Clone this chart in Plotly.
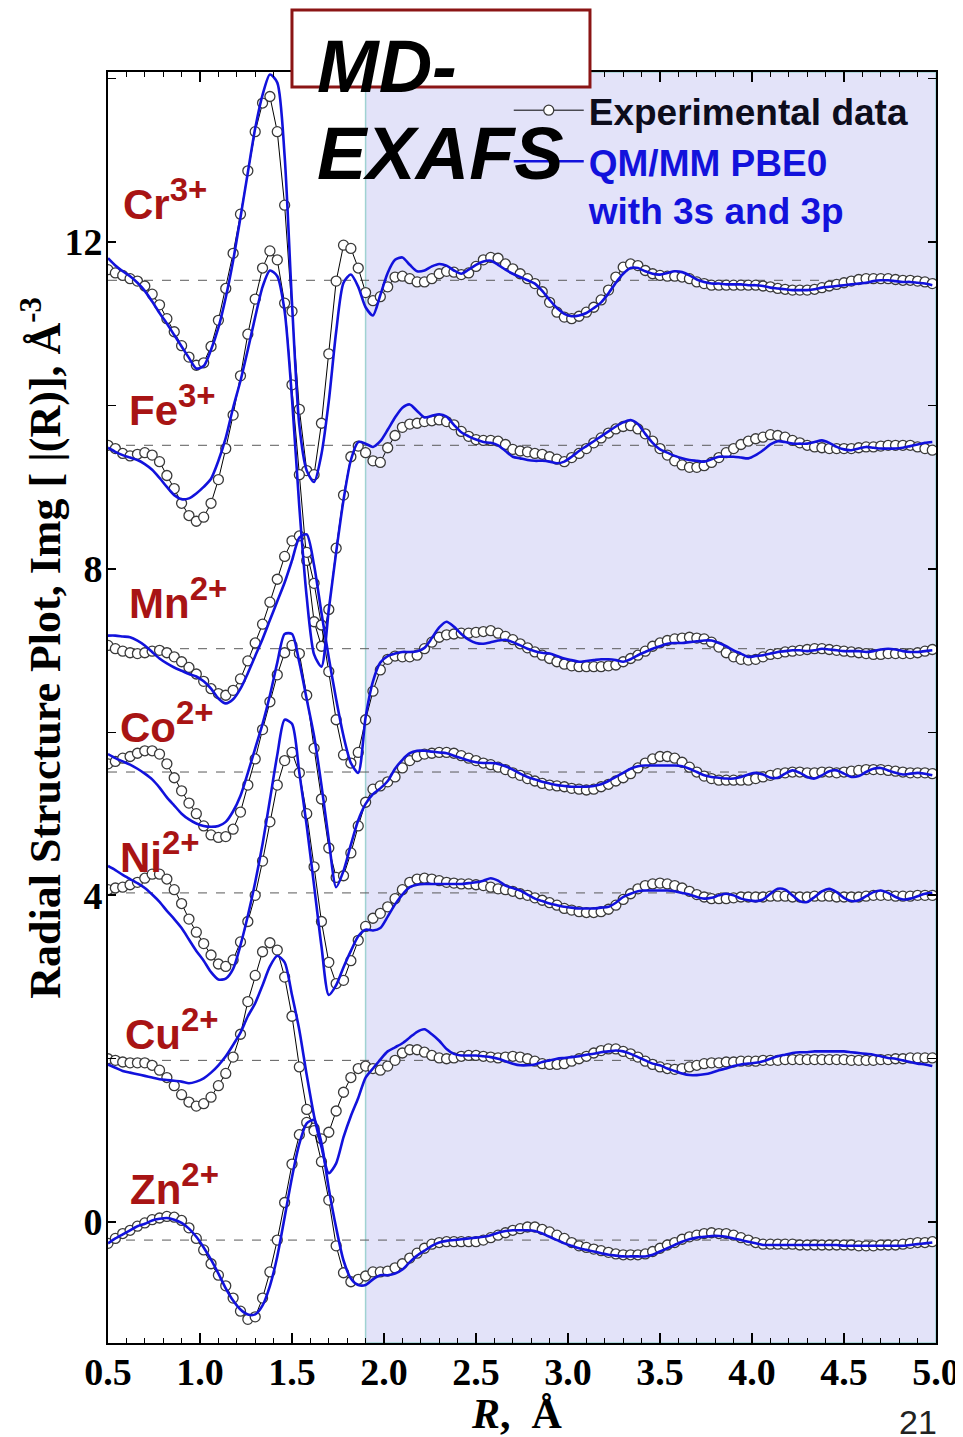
import plotly.graph_objects as go

# ---------------- data ----------------
R = [round(0.5 + 0.04 * i, 2) for i in range(113)]   # R grid, Angstrom

IONS = ["Cr", "Fe", "Mn", "Co", "Ni", "Cu", "Zn"]
CHARGES = ["3+", "3+", "2+", "2+", "2+", "2+", "2+"]
BASELINES = [11.53, 9.51, 7.02, 5.51, 4.03, 1.98, -0.22]

CR_EXP = [11.66, 11.62, 11.59, 11.55, 11.52, 11.46, 11.36, 11.23, 11.06, 10.90,
          10.73, 10.59, 10.49, 10.52, 10.72, 11.04, 11.43, 11.86, 12.34, 12.87,
          13.35, 13.70, 13.78, 13.35, 12.45, 11.15, 9.95, 9.20, 9.15, 9.78,
          10.63, 11.52, 11.96, 11.92, 11.68,
          11.38, 11.28, 11.33, 11.45, 11.57, 11.58, 11.55, 11.51, 11.51, 11.55,
          11.61, 11.64, 11.63, 11.60, 11.62, 11.70, 11.78, 11.81, 11.80, 11.73,
          11.67, 11.61, 11.55, 11.49, 11.39, 11.26, 11.14, 11.08, 11.06, 11.09,
          11.14, 11.20, 11.29, 11.41, 11.57, 11.69, 11.73, 11.71, 11.65, 11.61,
          11.59, 11.58, 11.58, 11.57, 11.55, 11.51, 11.49, 11.47, 11.47, 11.47,
          11.47, 11.47, 11.47, 11.47, 11.46, 11.45, 11.43, 11.42, 11.41, 11.41,
          11.41, 11.42, 11.44, 11.46, 11.48, 11.50, 11.52, 11.54, 11.55, 11.55,
          11.55, 11.55, 11.54, 11.53, 11.53, 11.52, 11.51, 11.49]
CR_QM = [11.80, 11.71, 11.64, 11.58, 11.50, 11.40, 11.27, 11.13, 11.00, 10.86,
         10.72, 10.58, 10.45, 10.48, 10.68, 10.95, 11.32, 11.77, 12.30, 12.85,
         13.39, 13.80, 14.05, 13.95, 13.05, 11.25, 9.75, 9.20, 9.06, 9.40,
         10.05, 10.90, 11.50, 11.60, 11.45,
         11.20, 11.10, 11.35, 11.62, 11.78, 11.81, 11.72, 11.64, 11.65, 11.70,
         11.73, 11.71, 11.65, 11.61, 11.66, 11.72, 11.76, 11.77, 11.72, 11.66,
         11.61, 11.57, 11.53, 11.49, 11.40, 11.29, 11.19, 11.12, 11.09, 11.10,
         11.13, 11.19, 11.26, 11.37, 11.50, 11.61, 11.68, 11.68, 11.64, 11.61,
         11.60, 11.62, 11.64, 11.63, 11.59, 11.54, 11.51, 11.49, 11.49, 11.48,
         11.48, 11.48, 11.47, 11.47, 11.46, 11.44, 11.43, 11.42, 11.41, 11.41,
         11.41, 11.42, 11.44, 11.45, 11.46, 11.47, 11.48, 11.49, 11.50, 11.52,
         11.53, 11.53, 11.52, 11.51, 11.51, 11.50, 11.49, 11.47]

FE_EXP = [9.51, 9.47, 9.41, 9.38, 9.40, 9.42, 9.39, 9.31, 9.14, 8.98,
          8.80, 8.65, 8.58, 8.63, 8.80, 9.09, 9.47, 9.88, 10.36, 10.87,
          11.30, 11.68, 11.89, 11.78, 11.25, 10.25, 9.15, 8.10, 7.35, 7.05,
          7.50, 8.25, 8.90, 9.37, 9.50,
          9.42, 9.32, 9.30, 9.48, 9.63, 9.73, 9.77, 9.78, 9.80, 9.81,
          9.82, 9.80, 9.76, 9.68, 9.62, 9.58, 9.57, 9.57, 9.56, 9.52,
          9.46, 9.44, 9.43, 9.41, 9.40, 9.37, 9.34, 9.31, 9.36, 9.41,
          9.47, 9.54, 9.60, 9.66, 9.71, 9.74, 9.75, 9.71, 9.65, 9.56,
          9.47, 9.39, 9.32, 9.27, 9.24, 9.24, 9.26, 9.30, 9.36, 9.42,
          9.47, 9.52, 9.56, 9.59, 9.61, 9.64, 9.63, 9.61, 9.57, 9.54,
          9.51, 9.49, 9.48, 9.47, 9.47, 9.47, 9.47, 9.48, 9.49, 9.49,
          9.50, 9.51, 9.51, 9.51, 9.51, 9.49, 9.47, 9.45]
FE_QM = [9.48, 9.43, 9.39, 9.36, 9.33, 9.28, 9.21, 9.11, 9.00, 8.90,
         8.85, 8.86, 8.92, 9.00, 9.10, 9.32, 9.60, 9.97, 10.30, 10.68,
         11.08, 11.45, 11.65, 11.58, 11.15, 10.08, 8.75, 7.65, 6.95, 6.80,
         7.50, 8.20, 8.84, 9.33, 9.55,
         9.53, 9.49, 9.56, 9.70, 9.85, 9.97, 10.01, 9.93, 9.85, 9.87,
         9.89, 9.86, 9.76, 9.67, 9.62, 9.58, 9.55, 9.54, 9.51, 9.44,
         9.37, 9.35, 9.33, 9.32, 9.32, 9.31, 9.29, 9.31, 9.37, 9.44,
         9.50, 9.56, 9.62, 9.68, 9.74, 9.79, 9.82, 9.77, 9.65, 9.54,
         9.46, 9.42, 9.38, 9.35, 9.33, 9.32, 9.31, 9.34, 9.37, 9.37,
         9.37, 9.36, 9.35, 9.39, 9.45, 9.52, 9.56, 9.55, 9.53, 9.53,
         9.53, 9.55, 9.57, 9.54, 9.49, 9.46, 9.45, 9.47, 9.49, 9.48,
         9.47, 9.47, 9.47, 9.48, 9.50, 9.52, 9.54, 9.55]

MN_EXP = [7.06, 7.02, 6.99, 6.97, 6.96, 6.97, 6.99, 7.00, 6.97, 6.92,
          6.86, 6.79, 6.71, 6.62, 6.53, 6.47, 6.45, 6.51, 6.65, 6.87,
          7.09, 7.32, 7.59, 7.87, 8.15, 8.34, 8.40, 8.20, 7.82, 7.31,
          6.74, 6.15, 5.72, 5.62, 5.75,
          6.15, 6.50, 6.76, 6.89, 6.93, 6.92, 6.92, 6.94, 7.02, 7.10,
          7.16, 7.19, 7.20, 7.21, 7.21, 7.22, 7.23, 7.24, 7.21, 7.17,
          7.13, 7.08, 7.03, 6.98, 6.94, 6.90, 6.86, 6.83, 6.81, 6.80,
          6.80, 6.80, 6.80, 6.81, 6.82, 6.86, 6.90, 6.94, 6.99, 7.05,
          7.09, 7.12, 7.14, 7.15, 7.16, 7.15, 7.14, 7.10, 7.04, 6.97,
          6.92, 6.89, 6.88, 6.89, 6.92, 6.95, 6.96, 6.98, 6.99, 7.00,
          7.01, 7.02, 7.02, 7.01, 7.00, 6.99, 6.98, 6.97, 6.96, 6.95,
          6.95, 6.96, 6.96, 6.96, 6.96, 6.97, 6.99, 7.01]
MN_QM = [7.18, 7.18, 7.17, 7.16, 7.12, 7.06, 6.98, 6.90, 6.84, 6.79,
         6.75, 6.71, 6.68, 6.62, 6.53, 6.41, 6.35, 6.40, 6.53, 6.72,
         6.93, 7.14, 7.37, 7.60, 7.83, 8.10, 8.38, 8.42, 8.04, 7.46,
         6.91, 6.40, 5.95, 5.62, 5.50,
         6.18, 6.62, 6.85, 6.93, 6.96, 6.98, 6.98, 6.99, 7.03, 7.15,
         7.28, 7.35, 7.29, 7.20, 7.13, 7.09, 7.08, 7.10, 7.12, 7.13,
         7.10, 7.06, 7.02, 6.99, 6.97, 6.96, 6.93, 6.90, 6.88, 6.86,
         6.87, 6.88, 6.89, 6.89, 6.88, 6.86, 6.89, 6.94, 6.98, 7.02,
         7.05, 7.08, 7.09, 7.09, 7.10, 7.11, 7.12, 7.12, 7.09, 7.05,
         7.00, 6.96, 6.92, 6.93, 6.94, 6.96, 6.98, 6.99, 7.00, 7.00,
         6.99, 7.00, 7.02, 7.01, 7.00, 6.99, 6.99, 6.99, 6.98, 6.99,
         7.01, 7.02, 7.01, 6.99, 6.98, 6.98, 6.99, 7.00]

CO_EXP = [5.61, 5.64, 5.68, 5.70, 5.74, 5.77, 5.77, 5.73, 5.61, 5.44,
          5.28, 5.13, 5.00, 4.85, 4.74, 4.71, 4.72, 4.81, 5.02, 5.35,
          5.67, 6.03, 6.37, 6.70, 6.97, 7.06, 6.96, 6.45, 5.80, 5.18,
          4.58, 4.22, 4.24, 4.52, 4.85,
          5.14, 5.30, 5.34, 5.39, 5.45, 5.56, 5.65, 5.70, 5.73, 5.74,
          5.75, 5.75, 5.74, 5.71, 5.68, 5.65, 5.62, 5.60, 5.57, 5.54,
          5.50, 5.47, 5.43, 5.40, 5.37, 5.35, 5.34, 5.33, 5.31, 5.30,
          5.29, 5.30, 5.33, 5.36, 5.40, 5.44, 5.49, 5.56, 5.62, 5.67,
          5.70, 5.70, 5.68, 5.63, 5.57, 5.51, 5.46, 5.43, 5.41, 5.41,
          5.41, 5.41, 5.41, 5.43, 5.45, 5.47, 5.49, 5.50, 5.51, 5.51,
          5.50, 5.50, 5.51, 5.51, 5.50, 5.51, 5.52, 5.53, 5.54, 5.54,
          5.54, 5.53, 5.52, 5.51, 5.50, 5.50, 5.50, 5.49]
CO_QM = [5.73, 5.68, 5.64, 5.60, 5.55, 5.49, 5.42, 5.32, 5.20, 5.10,
         5.00, 4.93, 4.88, 4.85, 4.84, 4.85, 4.90, 5.03, 5.22, 5.50,
         5.80, 6.10, 6.45, 6.85, 7.20, 7.20, 6.85, 6.40, 5.95, 5.35,
         4.68, 4.10, 4.30, 4.62, 4.92,
         5.12, 5.24, 5.31, 5.40, 5.55, 5.66, 5.74, 5.77, 5.77, 5.76,
         5.75, 5.74, 5.71, 5.68, 5.65, 5.63, 5.62, 5.62, 5.61, 5.58,
         5.54, 5.49, 5.45, 5.42, 5.39, 5.37, 5.35, 5.34, 5.33, 5.33,
         5.33, 5.34, 5.36, 5.40, 5.45, 5.50, 5.55, 5.58, 5.59, 5.59,
         5.59, 5.59, 5.59, 5.58, 5.55, 5.51, 5.47, 5.45, 5.44, 5.43,
         5.43, 5.45, 5.48, 5.50, 5.48, 5.44, 5.44, 5.49, 5.53, 5.50,
         5.45, 5.43, 5.47, 5.52, 5.53, 5.49, 5.45, 5.46, 5.51, 5.55,
         5.56, 5.53, 5.50, 5.48, 5.49, 5.50, 5.49, 5.47]

NI_EXP = [4.07, 4.09, 4.10, 4.13, 4.16, 4.21, 4.26, 4.26, 4.20, 4.07,
          3.90, 3.71, 3.55, 3.41, 3.27, 3.16, 3.13, 3.21, 3.43, 3.68,
          4.00, 4.42, 4.90, 5.35, 5.65, 5.75, 5.50, 5.00, 4.35, 3.68,
          3.18, 2.92, 2.96, 3.20, 3.45,
          3.62, 3.72, 3.78, 3.86, 3.96, 4.07, 4.16, 4.20, 4.21, 4.20,
          4.18, 4.16, 4.15, 4.14, 4.14, 4.13, 4.12, 4.10, 4.08, 4.07,
          4.05, 4.02, 4.00, 3.97, 3.94, 3.91, 3.88, 3.84, 3.82, 3.80,
          3.79, 3.79, 3.80, 3.83, 3.88, 3.95, 4.02, 4.08, 4.12, 4.14,
          4.15, 4.14, 4.12, 4.09, 4.05, 4.01, 3.98, 3.96, 3.96, 3.96,
          3.97, 3.98, 3.98, 3.98, 3.98, 3.99, 3.99, 3.99, 3.98, 3.98,
          3.98, 3.99, 3.99, 3.99, 3.98, 3.98, 3.98, 3.98, 3.99, 4.00,
          4.00, 4.00, 3.99, 3.99, 3.99, 4.00, 4.00, 4.00]
NI_QM = [4.36, 4.31, 4.25, 4.20, 4.15, 4.09, 4.01, 3.92, 3.81, 3.71,
         3.60, 3.46, 3.32, 3.20, 3.06, 2.97, 2.98, 3.10, 3.39, 3.75,
         4.16, 4.63, 5.17, 5.72, 6.15, 6.10, 5.50, 4.85, 4.12, 3.38,
         2.78, 2.90, 3.12, 3.32, 3.50,
         3.58, 3.57, 3.60, 3.74, 3.89, 4.01, 4.10, 4.13, 4.14, 4.14,
         4.14, 4.14, 4.14, 4.14, 4.15, 4.16, 4.18, 4.21, 4.18, 4.12,
         4.09, 4.06, 4.01, 3.96, 3.93, 3.90, 3.88, 3.86, 3.85, 3.84,
         3.84, 3.84, 3.85, 3.86, 3.91, 3.98, 4.02, 4.05, 4.06, 4.06,
         4.06, 4.06, 4.05, 4.03, 4.01, 3.98, 3.96, 3.97, 4.00, 4.02,
         4.00, 3.96, 3.94, 3.93, 3.95, 4.02, 4.08, 4.07, 4.00, 3.93,
         3.92, 3.98, 4.05, 4.08, 4.04, 3.97, 3.93, 3.94, 3.99, 4.04,
         4.06, 4.03, 3.98, 3.95, 3.96, 3.99, 4.02, 4.03]

CU_EXP = [2.00, 1.98, 1.96, 1.95, 1.95, 1.95, 1.92, 1.86, 1.77, 1.67,
          1.56, 1.47, 1.42, 1.45, 1.53, 1.67, 1.82, 2.02, 2.30, 2.70,
          3.02, 3.31, 3.42, 3.33, 3.00, 2.52, 1.90, 1.38, 1.15, 1.02,
          1.10, 1.36, 1.59, 1.77, 1.88,
          1.91, 1.88, 1.86, 1.91, 1.98, 2.07, 2.11, 2.11, 2.08, 2.04,
          2.01, 2.00, 2.01, 2.03, 2.04, 2.04, 2.03, 2.02, 2.01, 2.02,
          2.03, 2.02, 2.00, 1.97, 1.94, 1.93, 1.93, 1.94, 1.97, 2.00,
          2.03, 2.07, 2.10, 2.12, 2.12, 2.09, 2.06, 2.02, 1.97, 1.93,
          1.90, 1.88, 1.87, 1.88, 1.90, 1.92, 1.94, 1.95, 1.95, 1.96,
          1.96, 1.97, 1.97, 1.97, 1.98, 1.98, 1.98, 1.99, 1.99, 1.99,
          1.99, 1.99, 1.99, 1.99, 1.99, 1.99, 1.98, 1.98, 1.98, 1.98,
          1.99, 1.99, 2.00, 2.00, 2.01, 2.01, 2.01, 2.01]
CU_QM = [1.93, 1.89, 1.85, 1.83, 1.81, 1.79, 1.77, 1.75, 1.74, 1.73,
         1.72, 1.70, 1.72, 1.76, 1.83, 1.92, 2.03, 2.17, 2.32, 2.52,
         2.68, 2.90, 3.13, 3.26, 3.18, 2.78, 2.35, 1.80, 1.30, 0.92,
         0.60, 0.72, 1.04, 1.30, 1.52,
         1.77, 1.88, 1.99, 2.09, 2.14, 2.19, 2.26, 2.33, 2.36, 2.30,
         2.22, 2.12, 2.06, 2.04, 2.04, 2.04, 2.03, 2.02, 2.00, 1.97,
         1.94, 1.92, 1.92, 1.93, 1.96, 1.98, 2.00, 2.01, 2.02, 2.03,
         2.05, 2.06, 2.08, 2.09, 2.10, 2.09, 2.06, 2.02, 1.98, 1.94,
         1.92, 1.88, 1.85, 1.82, 1.80, 1.80, 1.81, 1.83, 1.86, 1.88,
         1.91, 1.93, 1.94, 1.95, 1.97, 2.00, 2.03, 2.05, 2.07, 2.08,
         2.08, 2.09, 2.09, 2.09, 2.09, 2.09, 2.08, 2.07, 2.06, 2.05,
         2.03, 2.01, 2.00, 1.98, 1.96, 1.94, 1.93, 1.91]

ZN_EXP = [-0.26, -0.20, -0.14, -0.10, -0.05, -0.01, 0.03, 0.05, 0.07, 0.06,
          0.02, -0.07, -0.20, -0.34, -0.51, -0.65, -0.78, -0.93, -1.09, -1.19,
          -1.16, -0.93, -0.61, -0.22, 0.24, 0.71, 1.07, 1.22, 1.12, 0.74,
          0.27, -0.29, -0.62, -0.73, -0.70,
          -0.66, -0.61, -0.61, -0.60, -0.56, -0.51, -0.44, -0.38, -0.32, -0.27,
          -0.25, -0.24, -0.24, -0.24, -0.24, -0.24, -0.22, -0.19, -0.16, -0.13,
          -0.10, -0.08, -0.06, -0.06, -0.09, -0.12, -0.16, -0.20, -0.25, -0.29,
          -0.31, -0.33, -0.35, -0.37, -0.39, -0.40, -0.40, -0.40, -0.39, -0.36,
          -0.32, -0.28, -0.25, -0.21, -0.18, -0.16, -0.14, -0.13, -0.14, -0.14,
          -0.16, -0.19, -0.22, -0.25, -0.27, -0.27, -0.27, -0.27, -0.27, -0.28,
          -0.28, -0.28, -0.28, -0.28, -0.28, -0.28, -0.28, -0.29, -0.29, -0.29,
          -0.28, -0.28, -0.28, -0.27, -0.26, -0.25, -0.25, -0.24]
ZN_QM = [-0.26, -0.20, -0.15, -0.10, -0.05, -0.02, 0.02, 0.04, 0.05, 0.03,
         -0.01, -0.08, -0.18, -0.31, -0.46, -0.63, -0.81, -0.96, -1.07, -1.13,
         -1.13, -1.02, -0.78, -0.42, 0.06, 0.55, 0.96, 1.21, 1.25, 0.97,
         0.41, -0.07, -0.47, -0.69, -0.77,
         -0.77, -0.70, -0.65, -0.65, -0.63, -0.58, -0.49, -0.41, -0.35, -0.29,
         -0.25, -0.23, -0.22, -0.21, -0.20, -0.19, -0.18, -0.16, -0.13, -0.11,
         -0.10, -0.10, -0.10, -0.11, -0.14, -0.18, -0.22, -0.26, -0.29, -0.32,
         -0.34, -0.36, -0.38, -0.40, -0.41, -0.42, -0.42, -0.42, -0.42, -0.40,
         -0.36, -0.32, -0.28, -0.24, -0.21, -0.19, -0.18, -0.17, -0.17, -0.18,
         -0.20, -0.22, -0.24, -0.26, -0.28, -0.28, -0.28, -0.28, -0.28, -0.28,
         -0.28, -0.28, -0.28, -0.28, -0.28, -0.29, -0.29, -0.29, -0.29, -0.29,
         -0.29, -0.29, -0.29, -0.29, -0.28, -0.27, -0.26, -0.25]

EXP_SERIES = [CR_EXP, FE_EXP, MN_EXP, CO_EXP, NI_EXP, CU_EXP, ZN_EXP]
QM_SERIES = [CR_QM, FE_QM, MN_QM, CO_QM, NI_QM, CU_QM, ZN_QM]
SHADE_START = 1.9
X_RANGE = [0.5, 5.0]
Y_RANGE = [-1.48, 14.08]

# ---------------- styles / positions ----------------
LABEL_POS = [(0.571, 12.52), (0.604, 10.0), (0.604, 7.63), (0.555, 6.12),
             (0.555, 4.53), (0.582, 2.36), (0.61, 0.46)]
BLUE = "#1212dc"
DARKRED = "#a81414"
SANS = "Liberation Sans, Arial, sans-serif"
SERIF = "Liberation Serif, Times New Roman, serif"

fig = go.Figure()

for i, ys in enumerate(EXP_SERIES):
    fig.add_trace(go.Scatter(
        x=R, y=ys, mode="lines+markers",
        line=dict(color="black", width=1),
        marker=dict(symbol="circle", size=10, color="white",
                    line=dict(color="#3a3a3a", width=1.3)),
        name="<b>Experimental data</b>", legendgroup="exp",
        showlegend=(i == 0)))

for i, ys in enumerate(QM_SERIES):
    fig.add_trace(go.Scatter(
        x=R, y=ys, mode="lines",
        line=dict(color=BLUE, width=2.6, shape="spline", smoothing=0.7),
        name=("<b><span style='color:%s'>QM/MM PBE0</span><br>"
              "<span style='color:%s'>with 3s and 3p</span></b>") % (BLUE, BLUE),
        legendgroup="qm", showlegend=(i == 0)))

shapes = [dict(type="rect", xref="x", yref="paper", x0=SHADE_START, x1=X_RANGE[1],
               y0=0, y1=1, fillcolor="#e3e3f9", line=dict(color="#9fd2d2", width=1.5),
               layer="below")]
for b in BASELINES:
    shapes.append(dict(type="line", xref="paper", yref="y", x0=0, x1=1, y0=b, y1=b,
                       line=dict(color="#5a5a5a", width=1, dash="dash"), layer="below"))
# title box
shapes.append(dict(type="rect", xref="paper", yref="paper", x0=0.2222, x1=0.5821,
                   y0=0.9882, y1=1.0488, fillcolor="white",
                   line=dict(color="#8b1515", width=3), layer="above"))

annotations = []
for (lx, ly), ion, ch in zip(LABEL_POS, IONS, CHARGES):
    annotations.append(dict(x=lx, y=ly, xref="x", yref="y", xanchor="left",
                            yanchor="middle", showarrow=False,
                            text="<b>%s<sup><span style='font-size:33px'>%s</span></sup></b>" % (ion, ch),
                            font=dict(family=SANS, size=42, color=DARKRED)))
annotations += [
    dict(x=0.25, y=1.004, xref="paper", yref="paper", xanchor="left", yanchor="middle",
         showarrow=False, text="<b><i>MD-</i></b>",
         font=dict(family=SANS, size=74, color="black")),
    dict(x=0.25, y=0.9355, xref="paper", yref="paper", xanchor="left", yanchor="middle",
         showarrow=False, text="<b><i>EXAFS</i></b>",
         font=dict(family=SANS, size=74, color="black")),
    dict(x=-0.0797, y=0.547, xref="paper", yref="paper", xanchor="center", yanchor="middle",
         textangle=-90, showarrow=False,
         text="<b>Radial Structure Plot, Img [ |(R)], Å<sup>-3</sup></b>",
         font=dict(family=SERIF, size=44, color="black")),
    dict(x=0.494, y=-0.0560, xref="paper", yref="paper", xanchor="center", yanchor="middle",
         showarrow=False, text="<b><i>R</i>,  Å</b>",
         font=dict(family=SERIF, size=42, color="black")),
    dict(x=0.978, y=-0.062, xref="paper", yref="paper", xanchor="center", yanchor="middle",
         showarrow=False, text="21", font=dict(family=SANS, size=34, color="#222222")),
]

# page body has an 8px default margin, so the figure is offset by 8px on screen
fig.update_layout(
    width=963, height=1437,
    margin=dict(l=100, r=35, t=64, b=102),
    paper_bgcolor="white", plot_bgcolor="white",
    shapes=shapes, annotations=annotations,
    showlegend=True,
    legend=dict(x=0.484, y=0.994, xanchor="left", yanchor="top",
                bgcolor="rgba(0,0,0,0)", borderwidth=0, valign="top",
                itemwidth=70, tracegroupgap=0,
                font=dict(family=SANS, size=37, color="#0d0d1c")),
    xaxis=dict(range=X_RANGE, tick0=0.5, dtick=0.5, tickformat=".1f",
               ticks="inside", ticklen=10, tickwidth=1.5, tickcolor="black",
               showline=True, linecolor="black", linewidth=2, mirror="ticks",
               minor=dict(ticks="inside", ticklen=5, dtick=0.1, tick0=0.5,
                          tickcolor="black", tickwidth=1),
               showgrid=False, zeroline=False, automargin=False,
               ticklabelstandoff=-6,
               tickfont=dict(family=SERIF, size=38, color="black", weight="bold")),
    yaxis=dict(range=Y_RANGE, tick0=0, dtick=4,
               ticks="inside", ticklen=8, tickwidth=1.5, tickcolor="black",
               showline=True, linecolor="black", linewidth=2, mirror="ticks",
               minor=dict(ticks="inside", ticklen=8, dtick=2, tick0=0,
                          tickcolor="black", tickwidth=1),
               showgrid=False, zeroline=False, automargin=False,
               ticklabelstandoff=-4,
               tickfont=dict(family=SERIF, size=38, color="black", weight="bold")),
)

fig.write_html("out.html")
